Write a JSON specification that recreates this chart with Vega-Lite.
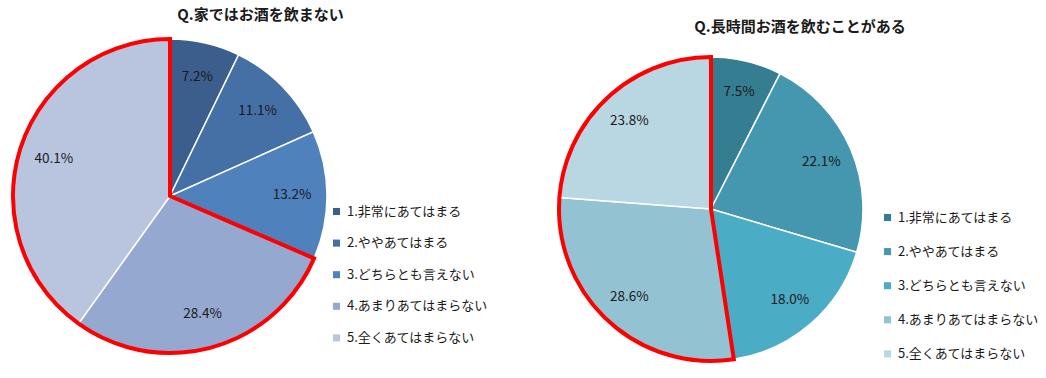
{
  "$schema": "https://vega.github.io/schema/vega-lite/v6.json",
  "padding": {"left": 5, "top": 8, "right": 5, "bottom": 5},
  "background": "white",
  "config": {"view": {"stroke": null}, "font": "Noto Sans CJK JP"},
  "spacing": 217,
  "bounds": "flush",
  "resolve": {"scale": {"color": "independent"}},
  "datasets": {
    "home": [
      {"no": 1, "cat": "1.非常にあてはまる", "v": 7.2},
      {"no": 2, "cat": "2.ややあてはまる", "v": 11.1},
      {"no": 3, "cat": "3.どちらとも言えない", "v": 13.2},
      {"no": 4, "cat": "4.あまりあてはまらない", "v": 28.4},
      {"no": 5, "cat": "5.全くあてはまらない", "v": 40.1}
    ],
    "long": [
      {"no": 1, "cat": "1.非常にあてはまる", "v": 7.5},
      {"no": 2, "cat": "2.ややあてはまる", "v": 22.1},
      {"no": 3, "cat": "3.どちらとも言えない", "v": 18.0},
      {"no": 4, "cat": "4.あまりあてはまらない", "v": 28.6},
      {"no": 5, "cat": "5.全くあてはまらない", "v": 23.8}
    ]
  },
  "hconcat": [
    {
      "width": 328,
      "height": 322,
      "title": {"text": "Q.家ではお酒を飲まない", "fontSize": 15, "fontWeight": "bold", "color": "#1a1a1a", "offset": 8, "frame": "bounds", "anchor": "middle", "dx": 14},
      "data": {"name": "home"},
      "layer": [
        {
          "mark": {"type": "arc", "outerRadius": 157, "stroke": "white", "strokeWidth": 1.5},
          "encoding": {
            "theta": {"field": "v", "type": "quantitative", "stack": true},
            "order": {"field": "no", "type": "quantitative"},
            "color": {
              "field": "cat", "type": "nominal",
              "scale": {"domain": ["1.非常にあてはまる", "2.ややあてはまる", "3.どちらとも言えない", "4.あまりあてはまらない", "5.全くあてはまらない"],
                        "range": ["#3B5E8C", "#4470A5", "#4F81BD", "#95A8D0", "#B9C5DF"]},
              "legend": {"title": null, "orient": "none", "legendX": 324, "legendY": 170, "symbolType": "square", "symbolSize": 50, "symbolStrokeWidth": 0, "labelFontSize": 13, "labelColor": "#1a1a1a", "rowPadding": 17.6, "labelOffset": 4}
            }
          }
        },
        {
          "transform": [
            {"calculate": "datum.no >= 4 ? 'hl' : 'other'", "as": "grp"},
            {"aggregate": [{"op": "sum", "field": "v", "as": "s"}], "groupby": ["grp"]},
            {"calculate": "datum.grp == 'other' ? 0 : 1", "as": "ord"}
          ],
          "mark": {"type": "arc", "outerRadius": 157, "fillOpacity": 0, "stroke": "#FF0000", "strokeWidth": 4, "strokeJoin": "miter"},
          "encoding": {
            "theta": {"field": "s", "type": "quantitative", "stack": true},
            "order": {"field": "ord", "type": "quantitative"},
            "strokeOpacity": {"condition": {"test": "datum.grp == 'hl'", "value": 1}, "value": 0}
          }
        },
        {
          "transform": [{"calculate": "format(datum.v, '.1f') + '%'", "as": "label"}],
          "mark": {"type": "text", "radius": 122, "fontSize": 13.5, "color": "#1a1a1a"},
          "encoding": {
            "theta": {"field": "v", "type": "quantitative", "stack": true},
            "order": {"field": "no", "type": "quantitative"},
            "text": {"field": "label"}
          }
        }
      ]
    },
    {
      "width": 320,
      "height": 348,
      "title": {"text": "Q.長時間お酒を飲むことがある", "fontSize": 15, "fontWeight": "bold", "color": "#1a1a1a", "offset": 0, "frame": "bounds", "anchor": "middle", "dx": 5},
      "data": {"name": "long"},
      "layer": [
        {
          "mark": {"type": "arc", "outerRadius": 152, "stroke": "white", "strokeWidth": 1.5},
          "encoding": {
            "theta": {"field": "v", "type": "quantitative", "stack": true},
            "order": {"field": "no", "type": "quantitative"},
            "color": {
              "field": "cat", "type": "nominal",
              "scale": {"domain": ["1.非常にあてはまる", "2.ややあてはまる", "3.どちらとも言えない", "4.あまりあてはまらない", "5.全くあてはまらない"],
                        "range": ["#357E92", "#4497AF", "#4BACC6", "#93C2D3", "#B8D7E3"]},
              "legend": {"title": null, "orient": "none", "legendX": 330, "legendY": 176, "symbolType": "square", "symbolSize": 50, "symbolStrokeWidth": 0, "labelFontSize": 13, "labelColor": "#1a1a1a", "rowPadding": 20.1, "labelOffset": 4}
            }
          }
        },
        {
          "transform": [
            {"calculate": "datum.no >= 4 ? 'hl' : 'other'", "as": "grp"},
            {"aggregate": [{"op": "sum", "field": "v", "as": "s"}], "groupby": ["grp"]},
            {"calculate": "datum.grp == 'other' ? 0 : 1", "as": "ord"}
          ],
          "mark": {"type": "arc", "outerRadius": 152, "fillOpacity": 0, "stroke": "#FF0000", "strokeWidth": 4, "strokeJoin": "miter"},
          "encoding": {
            "theta": {"field": "s", "type": "quantitative", "stack": true},
            "order": {"field": "ord", "type": "quantitative"},
            "strokeOpacity": {"condition": {"test": "datum.grp == 'hl'", "value": 1}, "value": 0}
          }
        },
        {
          "transform": [{"calculate": "format(datum.v, '.1f') + '%'", "as": "label"}],
          "mark": {"type": "text", "radius": 120, "fontSize": 13.5, "color": "#1a1a1a"},
          "encoding": {
            "theta": {"field": "v", "type": "quantitative", "stack": true},
            "order": {"field": "no", "type": "quantitative"},
            "text": {"field": "label"}
          }
        }
      ]
    }
  ]
}
